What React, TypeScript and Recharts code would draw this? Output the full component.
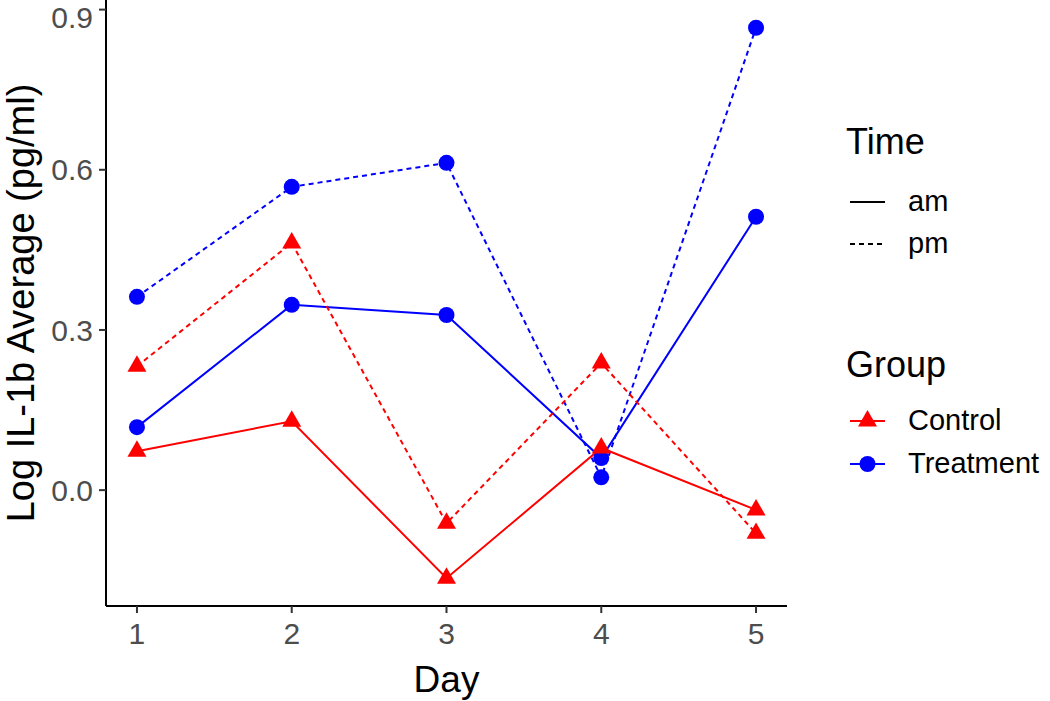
import React from "react";
import { LineChart, Line, XAxis, YAxis } from "recharts";

// values
const days = [1, 2, 3, 4, 5];
const controlAm = [0.073, 0.129, -0.165, 0.079, -0.037];
const controlPm = [0.232, 0.463, -0.062, 0.238, -0.081];
const treatmentAm = [0.118, 0.347, 0.328, 0.06, 0.512];
const treatmentPm = [0.362, 0.568, 0.613, 0.024, 0.866];
const yTicks = [0, 0.3, 0.6, 0.9];

const data = days.map((day, i) => ({
  day,
  controlAm: controlAm[i],
  controlPm: controlPm[i],
  treatmentAm: treatmentAm[i],
  treatmentPm: treatmentPm[i],
}));

const RED = "#FF0000";
const BLUE = "#0000FF";
const FONT = '"Liberation Sans", Arial, sans-serif';

function triangle(cx: number, cy: number, color: string, key?: string) {
  const s = 19;
  const h = s * 0.866;
  return (
    <path
      key={key}
      d={`M${cx},${cy - (2 * h) / 3} L${cx + s / 2},${cy + h / 3} L${cx - s / 2},${cy + h / 3} Z`}
      fill={color}
    />
  );
}

const triangleDot = (p: any) => triangle(p.cx, p.cy, RED, `t-${p.dataKey}-${p.index}`);
const circleDot = (p: any) => (
  <circle key={`c-${p.dataKey}-${p.index}`} cx={p.cx} cy={p.cy} r={8} fill={BLUE} />
);

function YTitle(props: any) {
  const vb = props.viewBox;
  const cy = vb.y + vb.height / 2;
  return (
    <text
      x={21}
      y={cy}
      transform={`rotate(-90, 21, ${cy})`}
      textAnchor="middle"
      dominantBaseline="central"
      fontSize={38}
      fill="#000"
      fontFamily={FONT}
    >
      Log IL-1b Average (pg/ml)
    </text>
  );
}

function LegendBlock() {
  const label = { position: "absolute" as const, left: 908, fontSize: 29, lineHeight: "29px" };
  const title = { position: "absolute" as const, left: 846, fontSize: 36, lineHeight: "36px" };
  const key = (top: number, child: React.ReactNode) => (
    <svg style={{ position: "absolute", left: 846, top: top - 15 }} width={44} height={30}>
      {child}
    </svg>
  );
  return (
    <div style={{ position: "absolute", left: 0, top: 0, fontFamily: FONT, color: "#000" }}>
      <div style={{ ...title, top: 142 - 18 }}>Time</div>
      {key(202, <line x1={4} x2={39} y1={15} y2={15} stroke="#000" strokeWidth={2} />)}
      <div style={{ ...label, top: 202 - 15 }}>am</div>
      {key(244, <line x1={4} x2={39} y1={15} y2={15} stroke="#000" strokeWidth={2} strokeDasharray="5 4" />)}
      <div style={{ ...label, top: 244 - 15 }}>pm</div>
      <div style={{ ...title, top: 365 - 18 }}>Group</div>
      {key(
        421,
        <g>
          <line x1={4} x2={39} y1={15} y2={15} stroke={RED} strokeWidth={2} />
          {triangle(21.5, 15, RED)}
        </g>
      )}
      <div style={{ ...label, top: 421 - 15 }}>Control</div>
      {key(
        464,
        <g>
          <line x1={4} x2={39} y1={15} y2={15} stroke={BLUE} strokeWidth={2} />
          <circle cx={21.5} cy={15} r={8} fill={BLUE} />
        </g>
      )}
      <div style={{ ...label, top: 464 - 15 }}>Treatment</div>
    </div>
  );
}

export default function App() {
  return (
    <div
      style={{
        position: "absolute",
        left: 0,
        top: 0,
        width: 1050,
        height: 701,
        background: "#fff",
        fontFamily: FONT,
      }}
    >
      <LineChart width={1050} height={701} data={data} margin={{ top: 0, right: 263, bottom: 0, left: 0 }}>
        <XAxis
          dataKey="day"
          type="number"
          domain={[0.8, 5.2]}
          ticks={days}
          height={95}
          tickSize={7}
          tickMargin={10}
          axisLine={{ stroke: "#000", strokeWidth: 2 }}
          tickLine={{ stroke: "#333", strokeWidth: 2 }}
          tick={{ fill: "#4D4D4D", fontSize: 30, fontFamily: FONT }}
          label={{ value: "Day", position: "insideBottom", offset: 9, fill: "#000", fontSize: 37, fontFamily: FONT }}
        />
        <YAxis
          type="number"
          domain={[-0.217, 0.918]}
          allowDataOverflow
          ticks={yTicks}
          width={106}
          tickSize={7}
          tickMargin={6}
          tickFormatter={(v: number) => v.toFixed(1)}
          axisLine={{ stroke: "#000", strokeWidth: 2 }}
          tickLine={{ stroke: "#333", strokeWidth: 2 }}
          tick={{ fill: "#4D4D4D", fontSize: 30, fontFamily: FONT }}
          label={<YTitle />}
        />
        {/* lines first so all the points sit on top */}
        <Line type="linear" dataKey="treatmentAm" stroke={BLUE} strokeWidth={2} dot={false} activeDot={false} isAnimationActive={false} />
        <Line type="linear" dataKey="treatmentPm" stroke={BLUE} strokeWidth={2} strokeDasharray="5 4" dot={false} activeDot={false} isAnimationActive={false} />
        <Line type="linear" dataKey="controlAm" stroke={RED} strokeWidth={2} dot={false} activeDot={false} isAnimationActive={false} />
        <Line type="linear" dataKey="controlPm" stroke={RED} strokeWidth={2} strokeDasharray="5 4" dot={false} activeDot={false} isAnimationActive={false} />
        <Line type="linear" dataKey="treatmentPm" stroke="none" dot={circleDot} activeDot={false} isAnimationActive={false} />
        <Line type="linear" dataKey="treatmentAm" stroke="none" dot={circleDot} activeDot={false} isAnimationActive={false} />
        <Line type="linear" dataKey="controlPm" stroke="none" dot={triangleDot} activeDot={false} isAnimationActive={false} />
        <Line type="linear" dataKey="controlAm" stroke="none" dot={triangleDot} activeDot={false} isAnimationActive={false} />
      </LineChart>
      <LegendBlock />
    </div>
  );
}
